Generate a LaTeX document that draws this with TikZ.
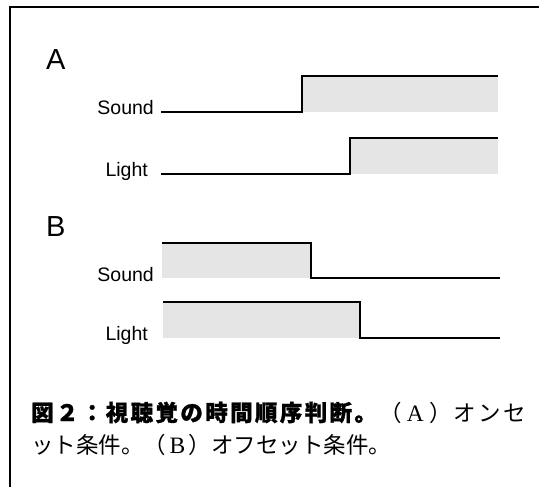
\documentclass[tikz,border=0pt]{standalone}
\usepackage{fontspec}
\setmainfont{Liberation Sans}
\newfontfamily\cjk{Noto Sans CJK JP}[BoldFeatures={FakeBold=1.2}]
\newfontfamily\lserif{Liberation Serif}
\definecolor{sigfill}{HTML}{E5E5E5}
\newcommand\gp{\hspace{0pt plus 1fil}}
\newcommand\serletter[1]{\makebox[1em]{\lserif\fontsize{23.5}{24}\selectfont #1}}
\begin{document}
\begin{tikzpicture}[x=1pt,y=-1pt,
  sigline/.style={line width=1.9pt, line join=miter, line cap=butt},
  fillbox/.style={fill=sigfill, draw=none},
  lbl/.style={anchor=base east, inner sep=0pt, font=\fontsize{19.5}{20}\selectfont},
  panel/.style={anchor=base west, inner sep=0pt, font=\fontsize{29}{30}\selectfont},
  captxt/.style={anchor=base west, inner sep=0pt, font=\fontsize{22.5}{24}\selectfont\cjk}]
\useasboundingbox (0,0) rectangle (539,487);
% frame (cropped box)
\draw[line width=2pt] (10,490) -- (10,7.5) -- (545,7.5);
% Panel A
\node[panel] (labA) at (46,70) {A};
\fill[fillbox] (302,76) rectangle (498,112);
\draw[sigline] (161,112) -- (302,112) -- (302,76) -- (498,76);
\node[lbl] (soundA) at (154,115) {Sound};
\fill[fillbox] (350,138) rectangle (498,174);
\draw[sigline] (161,174) -- (350,174) -- (350,138) -- (498,138);
\node[lbl] (lightA) at (148,176) {Light};
% Panel B
\node[panel] (labB) at (46,236) {B};
\fill[fillbox] (162,243) rectangle (311,278);
\draw[sigline] (162,243) -- (311,243) -- (311,278) -- (500,278);
\node[lbl] (soundB) at (154,281) {Sound};
\fill[fillbox] (163,302) rectangle (360,338);
\draw[sigline] (163,302) -- (360,302) -- (360,338) -- (500,338);
\node[lbl] (lightB) at (148,340) {Light};
% Caption
\node[captxt] (cap1) at (31,421) {\makebox[495pt][s]{\bfseries 図\gp ２\gp ：\gp 視\gp 聴\gp 覚\gp の\gp 時\gp 間\gp 順\gp 序\gp 判\gp 断\gp 。\gp\mdseries （\gp\serletter{A}\gp ）\gp オ\gp ン\gp セ}};
\node[captxt] (cap2) at (31,453) {ット条件。（\serletter{B}）オフセット条件。};
\end{tikzpicture}
\end{document}
